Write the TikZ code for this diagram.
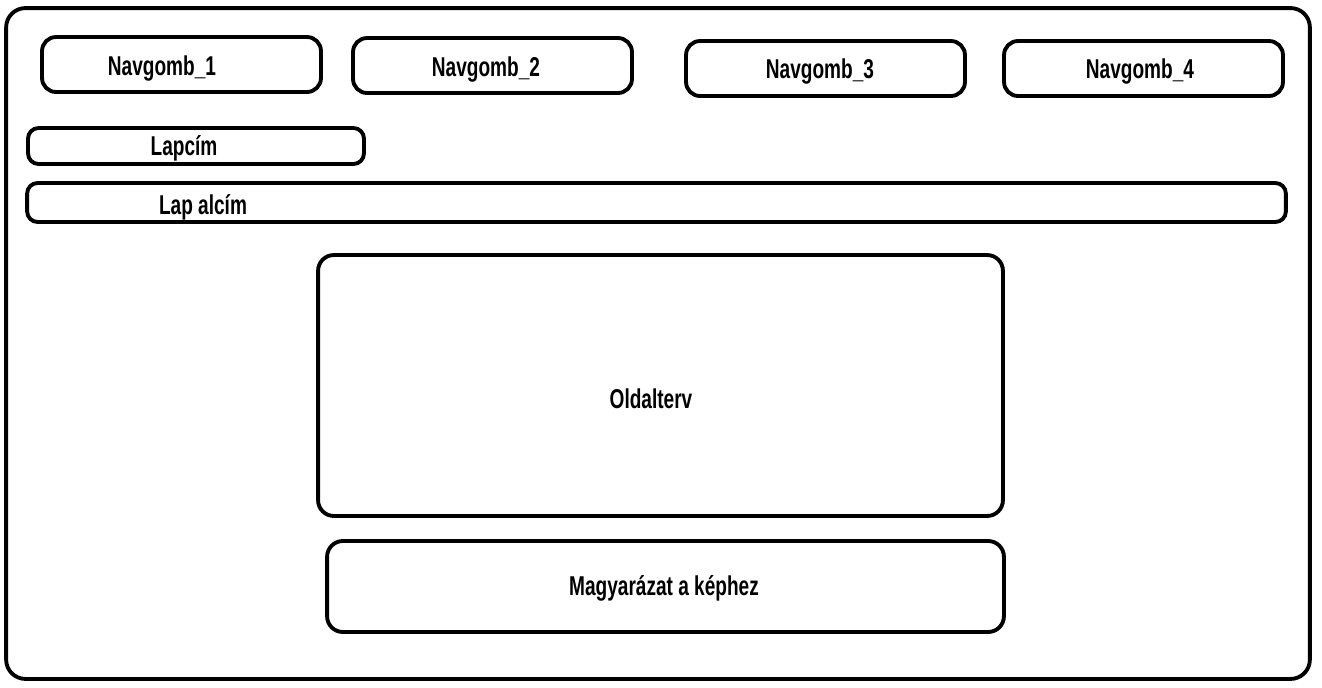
\documentclass[tikz,border=0pt]{standalone}
\usepackage{fontspec}
\setmainfont{Liberation Sans}
\newfontfamily\wirefont[FakeStretch=0.7]{Liberation Sans}
\usepackage{tikz}
\usetikzlibrary{positioning}
\tikzset{
  frame/.style   = {rectangle, draw, line width=2.2pt, rounded corners=11pt},
  navbox/.style  = {rectangle, draw, line width=2.2pt, rounded corners=8pt,
                    minimum width=5.58cm, minimum height=1.1cm, inner sep=0pt},
  barbox/.style  = {rectangle, draw, line width=2.2pt, rounded corners=6pt, inner sep=0pt},
  bigbox/.style  = {rectangle, draw, line width=2.2pt, rounded corners=9pt, inner sep=0pt},
  lbl/.style     = {font=\wirefont\bfseries\fontsize{15.5}{18}\selectfont, inner sep=0pt,
                    yshift=-0.05cm},
}
\begin{document}
\begin{tikzpicture}[x=0.02cm, y=-0.02cm]
\useasboundingbox (0,0) rectangle (1322,687);
% outer page frame
\node[frame, minimum width=26.08cm, minimum height=13.42cm] (page) at (658,343.5) {};
% navigation buttons
\node[navbox] (nav1) at (181.5,64.5) {};
\node[navbox] (nav2) at (492.5,65.5) {};
\node[navbox] (nav3) at (825.5,68.5) {};
\node[navbox] (nav4) at (1143.5,68.5) {};
\node[lbl] (nav1t) at (162,66) {Navgomb\_1};
\node[lbl] (nav2t) at (486,67) {Navgomb\_2};
\node[lbl] (nav3t) at (820,69) {Navgomb\_3};
\node[lbl] (nav4t) at (1140,69) {Navgomb\_4};
% titles
\node[barbox, minimum width=6.72cm, minimum height=0.72cm] (title) at (196,146) {};
\node[lbl] (titlet) at (184,146) {Lapcím};
\node[barbox, minimum width=25.18cm, minimum height=0.78cm] (subtitle) at (656.5,202.5) {};
\node[lbl] (subtitlet) at (203,205) {Lap alcím};
% content
\node[bigbox, minimum width=13.7cm, minimum height=5.22cm] (layout) at (660.5,385.5) {};
\node[lbl] (layoutt) at (651,396) {Oldalterv};
\node[bigbox, minimum width=13.54cm, minimum height=1.82cm] (caption) at (665.5,586.5) {};
\node[lbl] (captiont) at (664,586) {Magyarázat a képhez};
\end{tikzpicture}
\end{document}
